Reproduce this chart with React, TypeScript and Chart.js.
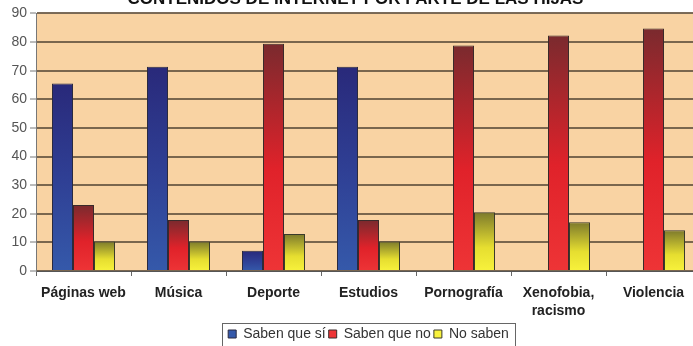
import React, { useEffect, useRef } from "react";
import { Chart, registerables } from "chart.js";

Chart.register(...registerables);

const TITLE = "CONTENIDOS DE INTERNET POR PARTE DE LAS HIJAS";
const categories: (string | string[])[] = [
  "Páginas web",
  "Música",
  "Deporte",
  "Estudios",
  "Pornografía",
  ["Xenofobia,", "racismo"],
  "Violencia",
];
const sabenSi: (number | null)[] = [65.5, 71.4, 7.1, 71.4, null, null, null];
const sabenNo: number[] = [23.1, 17.8, 79.4, 17.8, 78.8, 82.3, 84.7];
const noSaben: number[] = [10.3, 10.3, 12.9, 10.3, 20.5, 17.0, 14.2];
const seriesNames = ["Saben que sí", "Saben que no", "No saben"];
const yTicks = [0, 10, 20, 30, 40, 50, 60, 70, 80, 90];

const FONT = "'Liberation Sans', Arial, sans-serif";

function gradientFill(stops: [number, string][], solid: string) {
  return (ctx: any) => {
    const chart = ctx.chart;
    const area = chart.chartArea;
    if (!area || ctx.type !== "data") return solid;
    const v = ctx.raw;
    if (v === null || v === undefined) return solid;
    const ys = chart.scales.y;
    const top = ys.getPixelForValue(v);
    const bottom = ys.getPixelForValue(0);
    if (!(bottom > top + 0.5)) return solid;
    const g = chart.ctx.createLinearGradient(0, top, 0, bottom);
    stops.forEach(([o, c]) => g.addColorStop(o, c));
    return g;
  };
}

const plotBg = {
  id: "plotBg",
  beforeDraw(chart: any) {
    const { ctx, chartArea } = chart;
    if (!chartArea) return;
    ctx.save();
    ctx.fillStyle = "#f9d3a3";
    ctx.fillRect(chartArea.left, chartArea.top, chartArea.right - chartArea.left, chartArea.bottom - chartArea.top);
    ctx.restore();
  },
};

const legendFrame = {
  id: "legendFrame",
  afterDraw(chart: any) {
    const lg = chart.legend;
    if (!lg || !lg.legendHitBoxes || !lg.legendHitBoxes.length) return;
    const hb = lg.legendHitBoxes;
    const left = hb[0].left - 6;
    const last = hb[hb.length - 1];
    const right = last.left + last.width + 6;
    const ctx = chart.ctx;
    ctx.save();
    ctx.strokeStyle = "#666";
    ctx.lineWidth = 1;
    ctx.strokeRect(Math.round(left) + 0.5, Math.round(lg.top) - 0.5, Math.round(right - left), 28);
    ctx.restore();
  },
};

export default function App() {
  const ref = useRef<HTMLCanvasElement | null>(null);

  useEffect(() => {
    if (!ref.current) return;
    const chart = new Chart(ref.current, {
      type: "bar",
      data: {
        labels: categories,
        datasets: [
          {
            label: seriesNames[0],
            data: sabenSi,
            backgroundColor: gradientFill(
              [[0, "#29297a"], [0.5, "#2f3f94"], [1, "#3559aa"]],
              "#2c3f9a"
            ),
            borderColor: "#2a2a40",
            borderWidth: 1,
          },
          {
            label: seriesNames[1],
            data: sabenNo,
            backgroundColor: gradientFill(
              [[0, "#7a2a2e"], [0.55, "#e0222a"], [1, "#ee3436"]],
              "#e0222a"
            ),
            borderColor: "#3a2a2a",
            borderWidth: 1,
          },
          {
            label: seriesNames[2],
            data: noSaben,
            backgroundColor: gradientFill(
              [[0, "#7d7a2c"], [0.6, "#e6de30"], [1, "#f8f23c"]],
              "#f0e830"
            ),
            borderColor: "#3a3a2a",
            borderWidth: 1,
          },
        ],
      },
      options: {
        animation: false,
        responsive: false,
        devicePixelRatio: 1,
        layout: { padding: { left: 10, right: 1, top: 0, bottom: 0 } },
        datasets: {
          bar: { categoryPercentage: 0.663, barPercentage: 1.0, grouped: true },
        },
        plugins: {
          title: {
            display: true,
            text: TITLE,
            color: "#111",
            font: { family: FONT, size: 17, weight: "bold", lineHeight: 1.2 },
            padding: { top: 0, bottom: 4 },
          },
          legend: {
            display: true,
            position: "bottom",
            fullSize: false,
            labels: {
              color: "#333",
              font: { family: FONT, size: 14, lineHeight: 1.2 },
              boxWidth: 8,
              boxHeight: 8,
              padding: 3,
            },
          },
          tooltip: { enabled: false },
        },
        scales: {
          x: {
            type: "category",
            offset: true,
            afterFit: (scale: any) => {
              scale.height = 53;
            },
            grid: {
              display: true,
              drawOnChartArea: false,
              drawTicks: true,
              tickLength: 5,
              offset: true,
              color: "#666",
            },
            border: { display: true, color: "#555", width: 1 },
            ticks: {
              color: "#222",
              font: { family: FONT, size: 14, weight: "bold", lineHeight: 1.29 },
              padding: 8,
              maxRotation: 0,
              autoSkip: false,
            },
          },
          y: {
            min: 0,
            max: 90,
            afterFit: (scale: any) => {
              scale.width = 26;
            },
            afterBuildTicks: (scale: any) => {
              scale.ticks = yTicks.map((v) => ({ value: v }));
            },
            grid: {
              display: true,
              drawOnChartArea: true,
              drawTicks: true,
              tickLength: 6,
              color: "rgba(100, 82, 64, 0.85)",
              lineWidth: 2,
              tickColor: "#777",
              tickWidth: 1,
            },
            border: { display: true, color: "#777", width: 1 },
            ticks: {
              color: "#555",
              font: { family: FONT, size: 14 },
              padding: 3,
            },
          },
        },
      },
      plugins: [plotBg, legendFrame],
    });
    return () => chart.destroy();
  }, []);

  return (
    <div
      style={{
        position: "fixed",
        left: 0,
        top: 0,
        width: 693,
        height: 346,
        overflow: "hidden",
        background: "#fff",
      }}
    >
      <canvas
        ref={ref}
        width={702}
        height={362}
        style={{ position: "absolute", left: 0, top: -11, width: 702, height: 362 }}
      />
    </div>
  );
}
